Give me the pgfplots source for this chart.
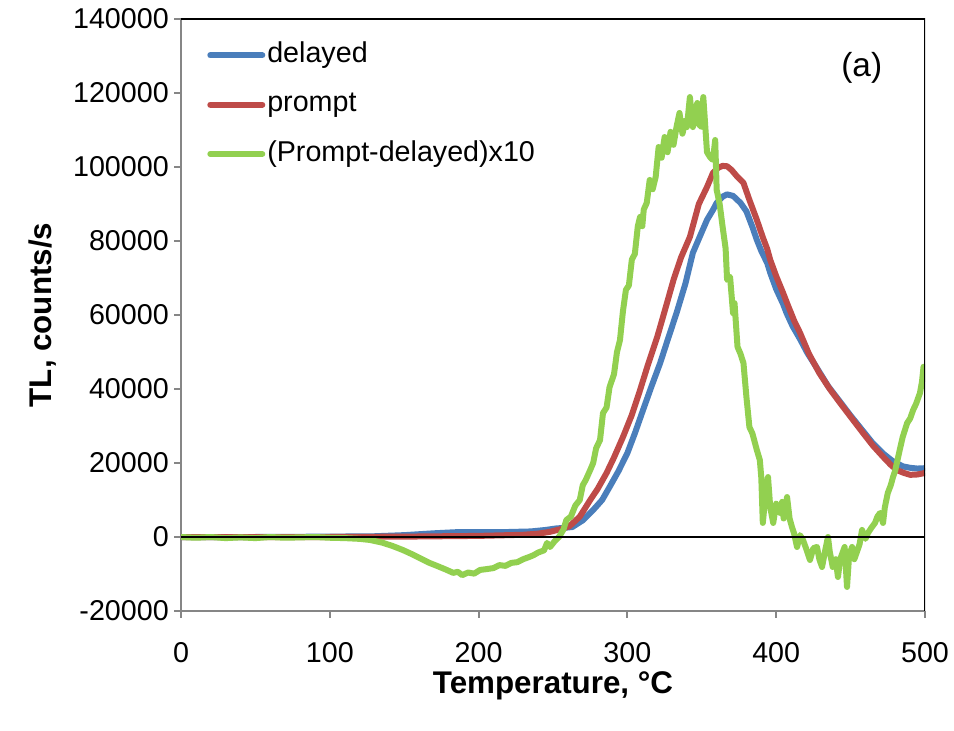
\documentclass[border=0pt]{standalone}
\usepackage{pgfplots}
\pgfplotsset{compat=1.18}
\usepackage{pgfplotstable}
\usepackage{fontspec}
\setmainfont{Liberation Sans}
\definecolor{cblue}{HTML}{4A7EBB}
\definecolor{cred}{HTML}{BE4B48}
\definecolor{cgreen}{HTML}{92D050}
\definecolor{axgray}{HTML}{868686}

\pgfplotstableread{
T y
0 0
50 0
100 100
130 200
150 500
170 1000
185 1300
215 1300
235 1500
245 1900
252 2300
258 2500
263 2700
270 4500
277 7300
283 10000
288 13500
294 17800
300 22700
305 28000
310.5 34300
316 40500
322 47000
327 53200
333 60500
339 68500
344 76800
349 81500
353.5 85700
357.5 88400
360 90300
364 92000
367 92600
371 92200
376 90300
380 88000
384 83800
387 80300
390 77300
394 74000
396 71400
400 67000
404.6 63000
407 60500
411 57000
416 53500
421 49700
427 45900
435 40700
443 36500
450 32800
458 28800
465 25300
472 22500
478 20600
485 19100
490 18700
495 18500
500 18600
}\delayed

\pgfplotstableread{
T y
0 0
100 0
150 100
200 300
230 600
240 900
248 1400
255 2100
261 2900
268 5500
275 10000
280 13000
286 17300
291 21500
297 27000
303 33000
308.5 39700
314 46800
320 54000
325 61000
331 69500
336 75500
342 81100
348 90000
353.5 94600
357.5 98400
361 99800
364 100300
367 100200
370 99200
374 97300
378 95700
382 91100
387 85700
391 81000
394 77800
396 74900
400 70500
404.6 66000
407.3 63200
412 58500
416 55200
422 49500
429 44300
436 40000
443 36200
450 32500
458 28300
465 24700
472 21600
477 19500
481 18100
486 17300
490 16800
495 16900
500 17300
}\prompt

\pgfplotstableread{
T y
0 0
10 -200
20 0
30 -300
40 -100
50 -300
60 0
70 -200
80 -100
90 0
100 -200
110 -300
120 -500
127 -800
135 -1500
142 -2400
149 -3500
155 -4600
160 -5600
167 -7000
172 -7800
178 -8800
183 -9700
186 -9400
189 -10300
193 -9600
197 -9900
201 -8900
205 -8700
210 -8400
214 -7600
218 -7800
222 -7000
226 -6800
230 -6000
234 -5400
237 -4900
240 -4200
244 -3600
246 -1600
248 -2700
251 -1200
254 0
257 2000
259 4600
262 5500
265 8500
268 10000
270 14000
272 15400
275 18100
277 20000
279 24000
281.6 26200
283.6 33500
286 35000
288 40500
291 44000
293 50000
295 53200
297 61000
299 66800
301 68000
303 75000
305 76500
307 84000
308.5 86500
310 84000
311 88500
313 90300
315 96500
317 94000
319 97300
321 105400
323 102500
325 108100
327 104000
329 109500
331 106000
333 110800
335 114600
337 109000
339 112500
340 110800
342 118900
344 110800
345 114000
347 117300
348 111500
350 110800
351 118900
352 113000
353.5 104000
355.5 102700
357.5 101900
359 107300
360 93800
362 90000
364 83800
366 78000
367 69500
369 70300
371 60500
372 63200
374 51400
376 49500
378 47000
380 37800
382 29700
384 28000
387 23500
389 20800
390 16000
391 3800
393 12000
394.5 16200
396 8000
398 3800
400 9000
402.6 6500
404 9500
405 5000
407.3 10800
409 5000
410.6 2700
412 1000
414 -2700
416 500
418 -800
420 -3000
422.7 -6200
425 -3000
427.4 -2700
429 -6000
430.8 -8100
433 -3500
434.8 0
436 -4000
438 -8100
440 -6000
441.5 -10800
443 -6000
446 -2700
447.6 -13500
449 -5000
451 -2700
452.5 -6000
454 -4300
456 -2000
457.7 1900
460 -500
461.7 1100
464 2500
466.4 3800
468 5500
469.8 6500
471.8 3800
473 8000
475 11900
477 14000
478.5 16200
480 18000
483 23500
485 27000
488 30800
490 32000
492 34300
494 36000
496.6 38900
498 42000
499 46000
500 44000
}\diffx

\begin{document}
\begin{tikzpicture}
\begin{axis}[
  name=ax,
  scale only axis, width=558bp, height=444bp,
  xmin=0, xmax=500, ymin=-20000, ymax=140000,
  xtick={0,100,200,300,400,500},
  xticklabels={0,100,200,300,400,500},
  ytick={-20000,0,20000,40000,60000,80000,100000,120000,140000},
  yticklabels={-20000,0,20000,40000,60000,80000,100000,120000,140000},
  axis x line*=bottom, axis y line*=left,
  axis line style={axgray, line width=1.5bp},
  tick style={axgray, line width=1.5bp},
  tick align=outside, major tick length=5bp,
  scaled ticks=false,
  ticklabel style={font=\fontsize{21.5bp}{25bp}\selectfont, text=black},
  xticklabel style={anchor=center, yshift=-26bp},
  yticklabel style={anchor=east, inner sep=0pt, xshift=-4bp},
  label style={font=\bfseries\fontsize{23.5bp}{28bp}\selectfont},
  xlabel={Temperature, °C}, ylabel={TL, counts/s},
  xlabel style={at={([yshift=-56bp]axis description cs:0.5,0)}, anchor=center},
  ylabel style={at={([xshift=-104bp]axis description cs:0,0.5)}, anchor=center},
  legend style={draw=none, fill=none, at={(0.035,0.965)}, anchor=north west,
    inner sep=0pt, row sep=14bp,
    font=\fontsize{21.5bp}{25bp}\selectfont,
    nodes={inner sep=1.5bp, text height=15.5bp, text depth=4.5bp}},
  legend cell align=left,
  legend image code/.code={\draw[#1, line width=4.5bp, line cap=round] (0bp,0bp) -- (39bp,0bp);},
]
\addplot[cblue, line width=4.5bp, line join=round, no markers] table[x=T, y=y] {\delayed};
\addlegendentry{delayed}
\addplot[cred, line width=4.5bp, line join=round, no markers] table[x=T, y=y] {\prompt};
\addlegendentry{prompt}
\addplot[cgreen, line width=4.5bp, line join=round, no markers] table[x=T, y=y] {\diffx};
\addlegendentry{(Prompt-delayed)x10}
\addplot[black, line width=1.5bp, no markers, forget plot] coordinates {(0,0) (500,0)};
\draw[black, line width=1.5bp] (rel axis cs:0,1) -- (rel axis cs:1,1) -- (rel axis cs:1,0);
\node[font=\fontsize{25bp}{30bp}\selectfont] at (rel axis cs:0.915,0.918) {(a)};
\end{axis}
\pgfresetboundingbox
\path[use as bounding box] ([shift={(-135.75bp,-90bp)}]ax.south west) rectangle ([shift={(579.75bp,458.25bp)}]ax.south west);
\end{tikzpicture}
\end{document}
